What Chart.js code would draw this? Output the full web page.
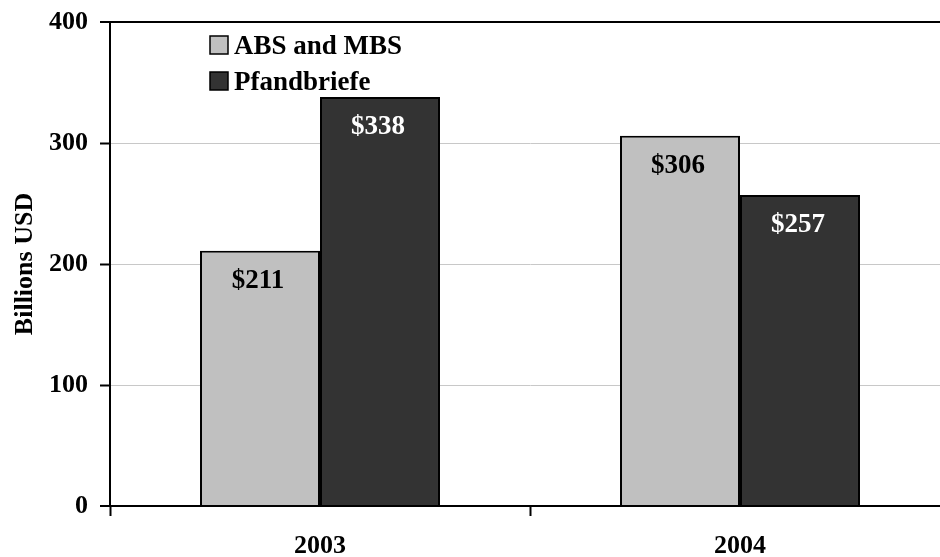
<!DOCTYPE html>
<html>
<head>
<meta charset="utf-8">
<script src="https://cdn.jsdelivr.net/npm/chart.js@4"></script>
<style>
  html, body { margin: 0; padding: 0; background: #fff; overflow: hidden; }
  #wrap { width: 960px; height: 557px; }
</style>
</head>
<body>
<div id="wrap"><canvas id="c" width="960" height="557"></canvas></div>
<script>
// Issuance volumes, billions of USD
const years = ['2003', '2004'];
const absMbs = [211, 306];
const pfandbriefe = [338, 257];
const seriesNames = ['ABS and MBS', 'Pfandbriefe'];
const yTicks = [0, 100, 200, 300, 400];

const FAMILY = '"Liberation Serif", "Times New Roman", serif';
const FONT = { family: FAMILY, size: 26, weight: 'bold' };
const labelFont = 'bold 27px ' + FAMILY;

Chart.defaults.color = '#000';

// Value labels inside the top of each bar
const barValueLabels = {
  id: 'barValueLabels',
  afterDatasetsDraw(chart) {
    const ctx = chart.ctx;
    ctx.save();
    ctx.font = labelFont;
    ctx.textAlign = 'center';
    ctx.textBaseline = 'alphabetic';
    chart.data.datasets.forEach((ds, di) => {
      const meta = chart.getDatasetMeta(di);
      meta.data.forEach((bar, i) => {
        ctx.fillStyle = ds.labelColor;
        ctx.fillText('$' + ds.data[i], bar.x - 2, bar.y + 37);
      });
    });
    ctx.restore();
  }
};

// Legend drawn inside the plot area, top left
const insideLegend = {
  id: 'insideLegend',
  afterDraw(chart) {
    const ctx = chart.ctx;
    const area = chart.chartArea;
    const x0 = area.left + 100;
    let y0 = area.top + 14;
    ctx.save();
    ctx.font = labelFont;
    ctx.textAlign = 'left';
    ctx.textBaseline = 'alphabetic';
    chart.data.datasets.forEach((ds) => {
      ctx.fillStyle = ds.backgroundColor;
      ctx.fillRect(x0, y0, 18, 18);
      ctx.lineWidth = 1.5;
      ctx.strokeStyle = '#000';
      ctx.strokeRect(x0, y0, 18, 18);
      ctx.fillStyle = '#000';
      ctx.fillText(ds.label, x0 + 24, y0 + 18);
      y0 += 36;
    });
    ctx.restore();
  }
};

new Chart(document.getElementById('c'), {
  type: 'bar',
  data: {
    labels: years,
    datasets: [
      { label: seriesNames[0], data: absMbs, backgroundColor: '#c0c0c0', borderColor: '#000', borderWidth: 2, labelColor: '#000' },
      { label: seriesNames[1], data: pfandbriefe, backgroundColor: '#333333', borderColor: '#000', borderWidth: 2, labelColor: '#fff' }
    ]
  },
  options: {
    responsive: false,
    animation: false,
    devicePixelRatio: 1,
    layout: { padding: { top: 22, right: 10, left: 0, bottom: 0 } },
    datasets: { bar: { categoryPercentage: 0.5714, barPercentage: 1 } },
    plugins: { legend: { display: false }, tooltip: { enabled: false } },
    scales: {
      x: {
        afterFit(scale) { scale.height = 51; scale.paddingLeft = 0; scale.paddingRight = 0; },
        border: { display: true, color: '#000', width: 2 },
        grid: { display: true, drawOnChartArea: false, drawTicks: true, tickLength: 10, tickColor: '#000', tickWidth: 2, offset: true },
        ticks: { font: FONT, color: '#000', padding: 15, maxRotation: 0 }
      },
      y: {
        min: 0,
        max: 400,
        afterFit(scale) { scale.width = 110; scale.paddingTop = 0; scale.paddingBottom = 0; },
        afterBuildTicks(scale) { scale.ticks = yTicks.map(v => ({ value: v })); },
        border: { display: true, color: '#000', width: 2 },
        grid: {
          color: (c) => (c.tick && (c.tick.value === 400 || c.tick.value === 0)) ? '#000' : '#c8c8c8',
          lineWidth: (c) => (c.tick && (c.tick.value === 400 || c.tick.value === 0)) ? 2 : 1,
          tickColor: '#000',
          tickWidth: 2,
          tickLength: 10
        },
        ticks: { font: FONT, color: '#000', padding: 12 },
        title: { display: true, text: 'Billions USD', font: FONT, color: '#000', padding: { top: 10, bottom: 0 } }
      }
    }
  },
  plugins: [barValueLabels, insideLegend]
});
</script>
</body>
</html>
